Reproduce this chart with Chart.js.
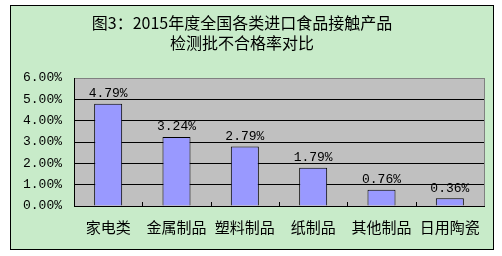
<!DOCTYPE html>
<html>
<head>
<meta charset="utf-8">
<script src="https://cdn.jsdelivr.net/npm/chart.js@4/dist/chart.umd.min.js"></script>
<style>
  html, body { margin: 0; padding: 0; background: #ffffff; }
  #frame { position: absolute; left: 10px; top: 5px; width: 482px; height: 243px;
           border: 1px solid #000; background: #c8ebc9; }
  #wrap { position: absolute; left: 0; top: 0; width: 502px; height: 256px; }
</style>
</head>
<body>
<div id="frame"></div>
<div id="wrap"><canvas id="c" width="502" height="256"></canvas></div>
<script>
const titleLines = ["图3：2015年度全国各类进口食品接触产品", "检测批不合格率对比"];
const categories = ["家电类", "金属制品", "塑料制品", "纸制品", "其他制品", "日用陶瓷"];
const rates = [4.79, 3.24, 2.79, 1.79, 0.76, 0.36];
const yTicks = [0, 1, 2, 3, 4, 5, 6];

const numFont = "'Liberation Mono', monospace";
const cjkFont = "'Noto Sans CJK SC', sans-serif";

const plotBg = {
  id: 'plotBg',
  beforeDraw(chart) {
    const { ctx, chartArea: a } = chart;
    ctx.save();
    ctx.fillStyle = '#c0c0c0';
    ctx.fillRect(a.left, a.top, a.right - a.left, a.bottom - a.top);
    ctx.restore();
  },
  afterDraw(chart) {
    const { ctx, chartArea: a } = chart;
    const xs = chart.scales.x;
    ctx.save();
    ctx.strokeStyle = '#808080';
    ctx.lineWidth = 1;
    ctx.beginPath();
    ctx.moveTo(Math.round(a.right) + 0.5, a.top);
    ctx.lineTo(Math.round(a.right) + 0.5, a.bottom);
    ctx.stroke();
    ctx.strokeStyle = '#000';
    for (let i = 1; i < categories.length; i++) {
      const x = Math.round((xs.getPixelForValue(i - 1) + xs.getPixelForValue(i)) / 2) + 0.5;
      ctx.beginPath();
      ctx.moveTo(x, a.bottom - 4);
      ctx.lineTo(x, a.bottom);
      ctx.stroke();
    }
    const meta = chart.getDatasetMeta(0);
    ctx.fillStyle = '#000';
    ctx.font = "13px " + numFont;
    ctx.textAlign = 'center';
    ctx.textBaseline = 'middle';
    meta.data.forEach((bar, i) => {
      ctx.fillText(rates[i].toFixed(2) + '%', bar.x, bar.y - 10);
    });
    ctx.restore();
  }
};

new Chart(document.getElementById('c'), {
  type: 'bar',
  data: {
    labels: categories,
    datasets: [{
      data: rates,
      backgroundColor: '#9999ff',
      borderColor: '#000000',
      borderWidth: 1,
      categoryPercentage: 1.0,
      barPercentage: 0.41
    }]
  },
  options: {
    responsive: false,
    animation: false,
    events: [],
    layout: { padding: { left: 0, right: 18, top: 0, bottom: 0 } },
    plugins: {
      legend: { display: false },
      tooltip: { enabled: false },
      title: {
        display: true,
        text: titleLines,
        color: '#000',
        font: { family: cjkFont, size: 16, weight: 'normal', lineHeight: 1.25 },
        padding: { top: 13, bottom: 25 }
      }
    },
    scales: {
      x: {
        grid: { display: false, drawTicks: false },
        border: { display: true, color: '#000', width: 1 },
        ticks: { color: '#000', font: { family: cjkFont, size: 15 }, padding: 12, maxRotation: 0, autoSkip: false },
        afterFit(s) { s.height = 50; }
      },
      y: {
        min: 0, max: 6,
        afterBuildTicks(s) { s.ticks = yTicks.map(v => ({ value: v })); },
        grid: {
          drawTicks: false,
          color: ctx => (ctx.tick && ctx.tick.value === 6) ? '#808080' : '#000',
          lineWidth: 1
        },
        border: { display: true, color: '#000', width: 1 },
        ticks: {
          color: '#000',
          font: { family: numFont, size: 13 },
          padding: 12,
          callback: v => Number(v).toFixed(2) + '%'
        },
        afterFit(s) { s.width = 74; }
      }
    }
  },
  plugins: [plotBg]
});
</script>
</body>
</html>
